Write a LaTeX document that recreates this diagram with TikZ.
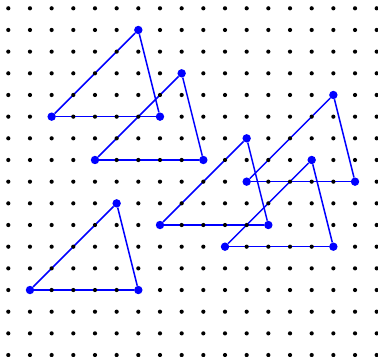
\documentclass[tikz,border=0pt]{standalone}
\pgfdeclarelayer{lines}
\pgfdeclarelayer{grid}
\pgfsetlayers{lines,grid,main}
\begin{document}
\begin{tikzpicture}[x=21.67pt,y=-21.67pt]
        \useasboundingbox (-0.383,-0.383) rectangle (17.06,16.09);
        \begin{pgfonlayer}{grid}
        \foreach \i in {0,...,17}
            \foreach \j in {0,...,16}
                \fill (\i,\j) circle (2.1pt);
        \end{pgfonlayer}

        \begin{scope}[every node/.style={circle, fill=blue, inner sep=0pt, minimum size=8.4pt}]
        \node (L1) at (2,5) {};
        \node (T1) at (6,1) {};
        \node (R1) at (7,5) {};
        \node (L2) at (4,7) {};
        \node (T2) at (8,3) {};
        \node (R2) at (9,7) {};
        \node (L3) at (7,10) {};
        \node (T3) at (11,6) {};
        \node (R3) at (12,10) {};
        \node (L4) at (11,8) {};
        \node (T4) at (15,4) {};
        \node (R4) at (16,8) {};
        \node (L5) at (10,11) {};
        \node (T5) at (14,7) {};
        \node (R5) at (15,11) {};
        \node (L6) at (1,13) {};
        \node (T6) at (5,9) {};
        \node (R6) at (6,13) {};
        \end{scope}

        \begin{pgfonlayer}{lines}
        \begin{scope}[blue, line width=1.5pt]
        \path [draw] (L1) edge (T1) edge (R1) (T1) edge (R1);
        \path [draw] (L2) edge (T2) edge (R2) (T2) edge (R2);
        \path [draw] (L3) edge (T3) edge (R3) (T3) edge (R3);
        \path [draw] (L4) edge (T4) edge (R4) (T4) edge (R4);
        \path [draw] (L5) edge (T5) edge (R5) (T5) edge (R5);
        \path [draw] (L6) edge (T6) edge (R6) (T6) edge (R6);
        \end{scope}
        \end{pgfonlayer}
    \end{tikzpicture}
\end{document}
